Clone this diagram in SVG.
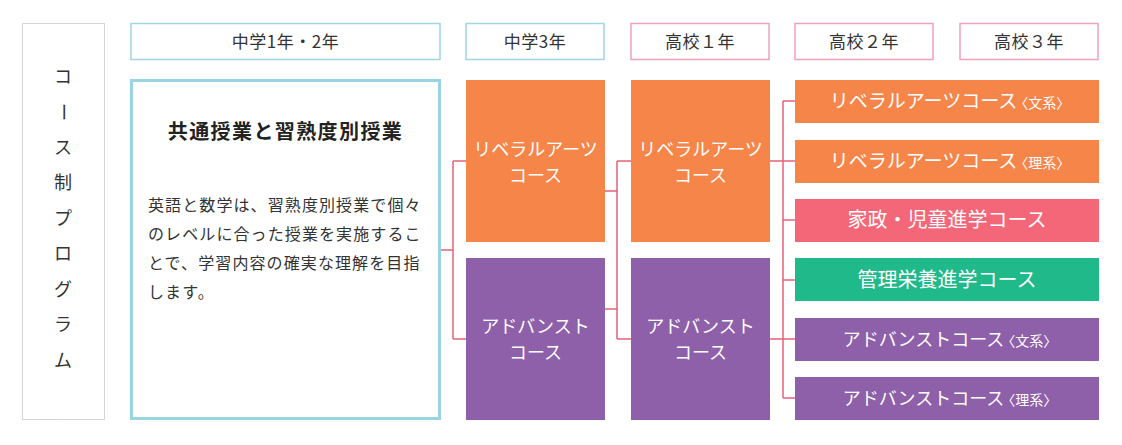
<svg xmlns="http://www.w3.org/2000/svg" width="1122" height="445" viewBox="0 0 1122 445">
<style>
text{font-family:"Noto Sans CJK JP","Noto Sans",sans-serif;}
.hdr{fill:#fff;stroke-width:1.5;}
.chu{stroke:#9fd6e1;}
.kou{stroke:#efa3bb;}
.ht{font-size:17px;fill:#333;text-anchor:middle;letter-spacing:0.5px;}
.or{fill:#f68549;}
.pu{fill:#8e60aa;}
.pk{fill:#f46778;}
.gr{fill:#20b98a;}
.wt{fill:#fff;text-anchor:middle;}
.bt{font-size:18px;}
.wide{font-size:19px;}
.sm{font-size:14px;}
.conn{fill:none;stroke:#e8607a;stroke-width:1.5;}
.vt{font-size:18px;fill:#333;text-anchor:middle;}
.body{font-size:16px;fill:#333;letter-spacing:1.1px;}
</style>
<rect width="1122" height="445" fill="#fff"/>
<g id="title-box">
<rect x="22.5" y="23.5" width="82" height="396" fill="#fff" stroke="#aaa" stroke-width="1" stroke-dasharray="1 1"/>
<text class="vt" x="63" y="83">コ</text>
<text class="vt" x="63" y="118" transform="rotate(90 63 112)">ー</text>
<text class="vt" x="63" y="154">ス</text>
<text class="vt" x="63" y="189">制</text>
<text class="vt" x="63" y="225">プ</text>
<text class="vt" x="63" y="260">ロ</text>
<text class="vt" x="63" y="296">グ</text>
<text class="vt" x="63" y="331">ラ</text>
<text class="vt" x="63" y="367">ム</text>
</g>
<g id="headers">
<g id="h-chu12"><rect class="hdr chu" x="131" y="23.5" width="309" height="36"/><text class="ht" x="285.5" y="47.5">中学1年・2年</text></g>
<g id="h-chu3"><rect class="hdr chu" x="466" y="23.5" width="138" height="36"/><text class="ht" x="535" y="47.5">中学3年</text></g>
<g id="h-kou1"><rect class="hdr kou" x="631" y="23.5" width="138" height="36"/><text class="ht" x="700" y="47.5">高校１年</text></g>
<g id="h-kou2"><rect class="hdr kou" x="795" y="23.5" width="138" height="36"/><text class="ht" x="864" y="47.5">高校２年</text></g>
<g id="h-kou3"><rect class="hdr kou" x="960" y="23.5" width="138" height="36"/><text class="ht" x="1029" y="47.5">高校３年</text></g>
</g>
<g id="connectors">
<path class="conn" d="M441 250H453M453 161V339M453 161H466M453 339H466"/>
<path class="conn" d="M605 191H617M605 309H617M617 161V339M617 161H631M617 339H631"/>
<path class="conn" d="M770 161H783M770 339H783M783 101V398M783 101H795M783 161H795M783 220H795M783 280H795M783 339H795M783 398H795"/>
</g>
<g id="common">
<rect x="131.5" y="80.5" width="308" height="338" fill="#fff" stroke="#98d5e0" stroke-width="3"/>
<text x="285.5" y="139" font-size="20" font-weight="bold" fill="#222" text-anchor="middle" letter-spacing="1.4">共通授業と習熟度別授業</text>
<text class="body" x="148" y="211">英語と数学は、習熟度別授業で個々</text>
<text class="body" x="148" y="240">のレベルに合った授業を実施するこ</text>
<text class="body" x="148" y="269">とで、学習内容の確実な理解を目指</text>
<text class="body" x="148" y="298">します。</text>
</g>
<g id="c3-liberal"><rect class="or" x="466" y="80" width="139" height="162"/><text class="wt bt" x="535.5" y="156">リベラルアーツ</text><text class="wt bt" x="535.5" y="182">コース</text></g>
<g id="c3-advance"><rect class="pu" x="466" y="258" width="139" height="162"/><text class="wt bt" x="535.5" y="333">アドバンスト</text><text class="wt bt" x="535.5" y="359">コース</text></g>
<g id="k1-liberal"><rect class="or" x="631" y="80" width="139" height="162"/><text class="wt bt" x="700.5" y="156">リベラルアーツ</text><text class="wt bt" x="700.5" y="182">コース</text></g>
<g id="k1-advance"><rect class="pu" x="631" y="258" width="139" height="162"/><text class="wt bt" x="700.5" y="333">アドバンスト</text><text class="wt bt" x="700.5" y="359">コース</text></g>
<g id="k2-lib-bun"><rect class="or" x="795" y="80" width="304" height="43"/><text class="wt wide" x="950" y="108">リベラルアーツコース<tspan class="sm" dx="-3">〈文系〉</tspan></text></g>
<g id="k2-lib-ri"><rect class="or" x="795" y="140" width="304" height="43"/><text class="wt wide" x="950" y="168">リベラルアーツコース<tspan class="sm" dx="-3">〈理系〉</tspan></text></g>
<g id="k2-kasei"><rect class="pk" x="795" y="199" width="304" height="43"/><text class="wt" font-size="20" x="947" y="227">家政・児童進学コース</text></g>
<g id="k2-eiyou"><rect class="gr" x="795" y="258" width="304" height="43"/><text class="wt" font-size="20" x="947" y="287">管理栄養進学コース</text></g>
<g id="k2-adv-bun"><rect class="pu" x="795" y="318" width="304" height="43"/><text class="wt" font-size="18" x="950" y="346">アドバンストコース<tspan class="sm" dx="-3">〈文系〉</tspan></text></g>
<g id="k2-adv-ri"><rect class="pu" x="795" y="377" width="304" height="43"/><text class="wt" font-size="18" x="950" y="405">アドバンストコース<tspan class="sm" dx="-3">〈理系〉</tspan></text></g>
</svg>
